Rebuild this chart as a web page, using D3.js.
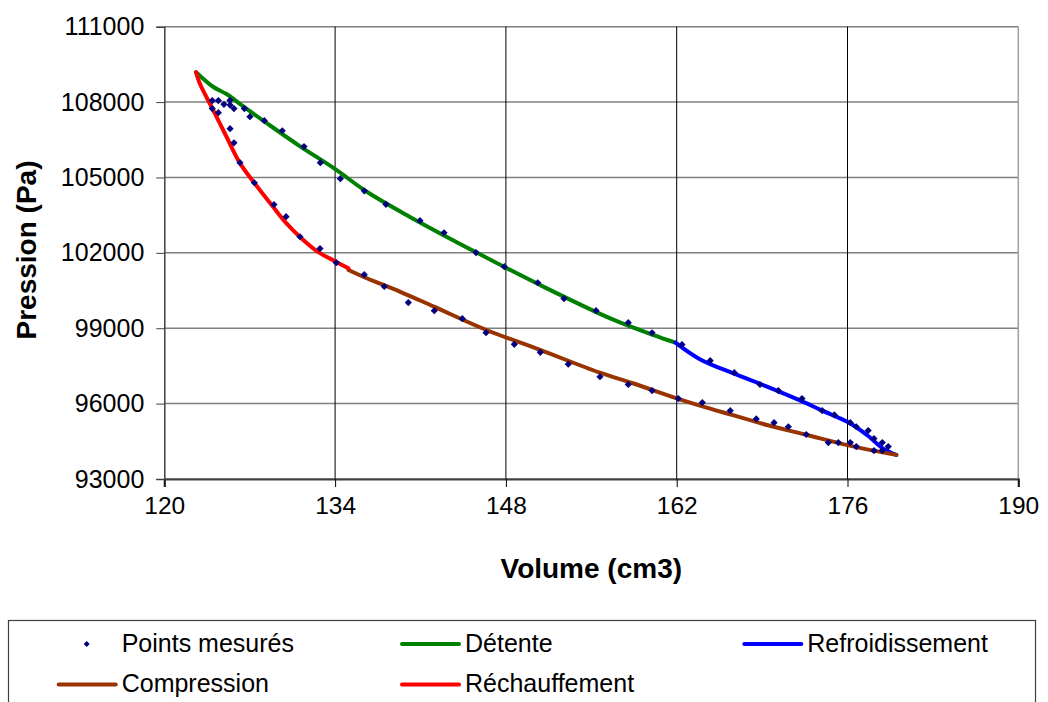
<!DOCTYPE html>
<html><head><meta charset="utf-8">
<script src="https://cdn.jsdelivr.net/npm/d3@7"></script>
<style>
body{margin:0;background:#fff;}
svg{display:block;font-family:"Liberation Sans",Arial,sans-serif;}
</style></head>
<body>
<svg id="chart" width="1048" height="702"></svg>
<script>
// ---- data ----
const xTicks = [120,134,148,162,176,190];
const yTicks = [93000,96000,99000,102000,105000,108000,111000];

const pointsV = [123.93,124.43,124.89,125.39,125.39,125.71,123.93,124.43,126.56,127.02,128.20,129.67,131.45,132.79,134.43,136.39,
  138.17,140.96,142.93,145.55,147.87,150.61,152.76,155.39,158.03,159.98,162.43,
  164.75,166.72,168.83,170.33,172.27,173.93,174.92,176.23,176.72,177.70,178.17,178.85,179.34,
  125.39,125.71,126.20,127.38,128.99,129.98,131.12,132.76,134.10,136.39,138.03,140.00,142.13,144.43,146.37,148.69,150.82,153.11,
  155.71,158.03,159.98,162.13,164.10,166.39,168.52,169.98,171.15,172.62,174.43,175.25,176.23,176.72,178.17,178.85];
const pointsP = [108060,108060,107910,108070,107880,107740,107740,107580,107740,107420,107260,106860,106230,105590,104950,104470,
  103930,103280,102800,102010,101450,100810,100180,99700,99220,98820,98350,
  97710,97230,96760,96520,96200,95720,95550,95240,95080,94930,94610,94450,94290,
  106940,106380,105590,104790,103920,103440,102640,102170,101610,101130,100660,100020,99700,99380,98820,98360,98040,97570,
  97070,96760,96520,96200,96040,95720,95390,95240,95080,94770,94450,94450,94450,94290,94130,94130];

const detenteV = [122.6,124.0,125.1,126.5,128.4,131.1,133.9,136.6,140.1,145.6,150.8,156.8,160.1,161.9];
const detenteP = [109190,108610,108320,107820,107160,106250,105370,104430,103440,102010,100720,99340,98730,98430];

const refroidV = [161.9,163.9,166.6,169.4,172.1,173.8,176.2,177.6,178.9,180.0];
const refroidP = [98430,97770,97210,96680,96130,95750,95220,94750,94220,93960];

const compV = [180.0,178.1,175.9,172.7,169.4,166.6,163.9,162.0,158.4,155.7,150.8,146.4,142.1,139.3,136.6,135.1];
const compP = [93960,94130,94360,94750,95150,95540,95920,96210,96810,97230,98140,98930,99860,100460,100990,101320];

const rechV = [135.1,133.9,132.5,131.1,130.0,128.9,127.4,126.2,125.1,124.0,122.9,122.6];
const rechP = [101390,101690,102070,102640,103180,103840,104770,105570,106620,107690,108750,109190];

const legendLabels = ["Points mesurés","Détente","Refroidissement","Compression","Réchauffement"];

// ---- drawing ----
(function(){
const svg = d3.select("#chart");
const pL = 164.3, pR = 1018.3, pT = 26.7, pB = 479;
const x = d3.scaleLinear().domain([120,190]).range([pL,pR]);
const y = d3.scaleLinear().domain([93000,111000]).range([pB,pT]);

// horizontal gridlines
svg.append("g").selectAll("line").data(yTicks).join("line")
  .attr("x1",pL).attr("x2",pR)
  .attr("y1",d=>y(d)).attr("y2",d=>y(d))
  .attr("stroke","#808080").attr("stroke-width",1.5);
// vertical gridlines
svg.append("g").selectAll("line").data(xTicks.slice(1,-1)).join("line")
  .attr("x1",d=>x(d)).attr("x2",d=>x(d))
  .attr("y1",pT).attr("y2",pB)
  .attr("stroke","#000").attr("stroke-width",1);
// right border
svg.append("line").attr("x1",pR).attr("x2",pR).attr("y1",pT).attr("y2",pB)
  .attr("stroke","#a0a0a0").attr("stroke-width",1.5);

// axes
const xAxis = d3.axisBottom(x).tickValues(xTicks).tickSize(8).tickPadding(10).tickFormat(d3.format("d"));
const gx = svg.append("g").attr("transform",`translate(0,${pB})`).call(xAxis);
gx.select(".domain").attr("stroke","#404040").attr("stroke-width",2.2);
gx.selectAll(".tick line").attr("stroke","#000");
gx.selectAll("text").attr("font-size",24.5).attr("fill","#000").attr("font-family","Liberation Sans, Arial, sans-serif");

const yAxis = d3.axisLeft(y).tickValues(yTicks).tickSize(8).tickPadding(12).tickFormat(d3.format("d"));
const gy = svg.append("g").attr("transform",`translate(${pL},0)`).call(yAxis);
gy.select(".domain").attr("stroke","#404040").attr("stroke-width",1.5);
gy.selectAll(".tick line").attr("stroke","#404040");
gy.selectAll("text").attr("font-size",25).attr("fill","#000").attr("font-family","Liberation Sans, Arial, sans-serif");

// lines
const line = d3.line().x(d=>x(d[0])).y(d=>y(d[1])).curve(d3.curveCatmullRom.alpha(0.5));
const series = [
  {v:detenteV,p:detenteP,c:"#008000"},
  {v:refroidV,p:refroidP,c:"#0000ff"},
  {v:compV,p:compP,c:"#993300"},
  {v:rechV,p:rechP,c:"#ff0000"}
];
series.forEach(s=>{
  svg.append("path").datum(s.v.map((v,i)=>[v,s.p[i]]))
    .attr("d",line).attr("fill","none").attr("stroke",s.c)
    .attr("stroke-width",4).attr("stroke-linejoin","round").attr("stroke-linecap","round");
});

// points
const diamond = "M0,-3.6L3.6,0L0,3.6L-3.6,0Z";
svg.append("g").selectAll("path").data(pointsV.map((v,i)=>[v,pointsP[i]])).join("path")
  .attr("d",diamond).attr("transform",d=>`translate(${x(d[0])},${y(d[1])})`)
  .attr("fill","#000080");

// axis titles
svg.append("text").attr("x",(pL+pR)/2).attr("y",578).attr("text-anchor","middle")
  .attr("font-size",28).attr("font-weight","bold").text("Volume (cm3)");
svg.append("text").attr("transform",`translate(36,250) rotate(-90)`).attr("text-anchor","middle")
  .attr("font-size",28).attr("font-weight","bold").text("Pression (Pa)");

// legend
svg.append("rect").attr("x",8.5).attr("y",620.5).attr("width",1027).attr("height",100)
  .attr("fill","#fff").attr("stroke","#404040").attr("stroke-width",1.2);
const legendItems = [
  {t:legendLabels[0],type:"pt",c:"#000080",tx:121.7,ty:651.5},
  {t:legendLabels[1],type:"ln",c:"#008000",tx:465,ty:651.5},
  {t:legendLabels[2],type:"ln",c:"#0000ff",tx:807.3,ty:651.5},
  {t:legendLabels[3],type:"ln",c:"#993300",tx:121.7,ty:692},
  {t:legendLabels[4],type:"ln",c:"#ff0000",tx:465,ty:692}
];
legendItems.forEach(it=>{
  const cy = it.ty - 7.5;
  if(it.type==="ln"){
    svg.append("line").attr("x1",it.tx-63).attr("x2",it.tx-6).attr("y1",cy).attr("y2",cy)
      .attr("stroke",it.c).attr("stroke-width",4).attr("stroke-linecap","round");
  } else {
    svg.append("path").attr("d","M0,-3L3,0L0,3L-3,0Z").attr("transform",`translate(${it.tx-35},${cy})`).attr("fill",it.c);
  }
  svg.append("text").attr("x",it.tx).attr("y",it.ty).attr("font-size",25).attr("fill","#000").text(it.t);
});
})();
</script>
</body></html>
